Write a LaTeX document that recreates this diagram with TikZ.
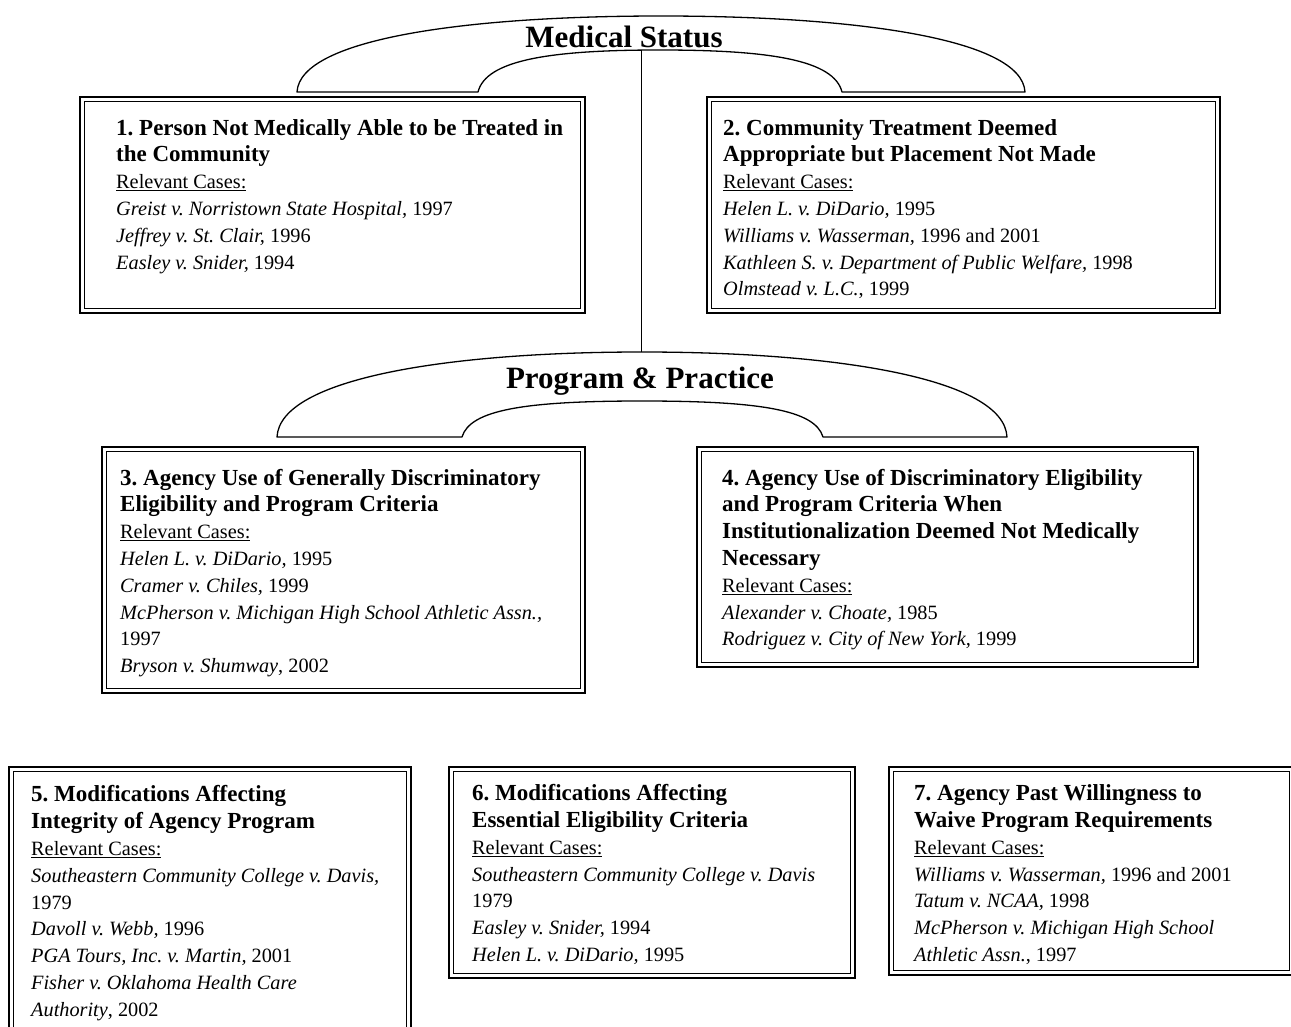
\documentclass[tikz,border=0pt]{standalone}
\usepackage{fontspec}
\setmainfont{Liberation Serif}
\frenchspacing
\newcommand\hd[1]{{\fontsize{23}{26.8}\selectfont\bfseries #1}}
\newcommand\rc{\underline{Relevant Cases:}}
\newcommand\cs[1]{\textit{#1}}
\begin{document}
\begin{tikzpicture}[x=1pt,y=-1pt,
  frame/.style={draw, line width=2.6pt, rectangle, inner sep=0pt, outer sep=0pt, anchor=north west},
  body/.style={anchor=north west, align=left, inner sep=0pt, font=\fontsize{20.3}{26.8}\selectfont},
  arch/.style={draw, line width=1.3pt, line join=round},
  head/.style={font=\fontsize{31}{36}\selectfont\bfseries, inner sep=0pt}]
\clip (0,0) rectangle (1291,1027);
\fill[white] (0,0) rectangle (1291,1027);

% arches
\draw[arch] (297,92) .. controls (300,38) and (470,16) .. (661,16) .. controls (852,16) and (1022,38) .. (1025,92) -- (842,92) .. controls (834,60) and (770,50) .. (660,50) .. controls (550,50) and (486,60) .. (478,92) -- cycle;
\draw[arch] (277,437) .. controls (280,378) and (450,352) .. (642,352) .. controls (834,352) and (1004,378) .. (1007,437) -- (823,437) .. controls (815,410) and (760,401) .. (642,401) .. controls (524,401) and (470,410) .. (462,437) -- cycle;

\node[head] (ms) at (624,37) {Medical Status};
\node[head] (pp) at (640,381) {Program \& Practice};

\coordinate (c1) at (641,50);
\coordinate (c2) at (641,352);
\draw[line width=1pt] (c1) -- (c2);

% boxes
\node[frame, minimum width=505pt, minimum height=216pt] (b1) at (80,97) {};
\node[frame, minimum width=513pt, minimum height=216pt] (b2) at (707,97) {};
\node[frame, minimum width=483pt, minimum height=246pt] (b3) at (102,447) {};
\node[frame, minimum width=501pt, minimum height=220pt] (b4) at (697,447) {};
\node[frame, minimum width=402pt, minimum height=290pt] (b5) at (9,767) {};
\node[frame, minimum width=406pt, minimum height=211pt] (b6) at (449,767) {};
\node[frame, minimum width=405pt, minimum height=208pt] (b7) at (889,767) {};
\foreach \n in {b1,b2,b3,b4,b5,b6,b7}
  \draw[line width=0.9pt] ([shift={(4.2,4.2)}]\n.north west) rectangle ([shift={(-4.2,-4.2)}]\n.south east);

\node[body] (t1) at (116,116.2) {\strut\hd{1. Person Not Medically Able to be Treated in}\\
\hd{the Community}\\
\rc\\
\cs{Greist v. Norristown State Hospital,} 1997\\
\cs{Jeffrey v. St. Clair,} 1996\\
\cs{Easley v. Snider,} 1994};

\node[body] (t2) at (723,116.2) {\strut\hd{2. Community Treatment Deemed}\\
\hd{Appropriate but Placement Not Made}\\
\rc\\
\cs{Helen L. v. DiDario,} 1995\\
\cs{Williams v. Wasserman,} 1996 and 2001\\
\cs{Kathleen S. v. Department of Public Welfare,} 1998\\
\cs{Olmstead v. L.C.}, 1999};

\node[body] (t3) at (120,466.2) {\strut\hd{3. Agency Use of Generally Discriminatory}\\
\hd{Eligibility and Program Criteria}\\
\rc\\
\cs{Helen L. v. DiDario,} 1995\\
\cs{Cramer v. Chiles,} 1999\\
\cs{McPherson v. Michigan High School Athletic Assn.,}\\
1997\\
\cs{Bryson v. Shumway}, 2002};

\node[body] (t4) at (722,466.2) {\strut\hd{4. Agency Use of Discriminatory Eligibility}\\
\hd{and Program Criteria When}\\
\hd{Institutionalization Deemed Not Medically}\\
\hd{Necessary}\\
\rc\\
\cs{Alexander v. Choate,} 1985\\
\cs{Rodriguez v. City of New York,} 1999};

\node[body] (t5) at (31,783) {\strut\hd{5. Modifications Affecting}\\
\hd{Integrity of Agency Program}\\
\rc\\
\cs{Southeastern Community College v. Davis,}\\
1979\\
\cs{Davoll v. Webb,} 1996\\
\cs{PGA Tours, Inc. v. Martin,} 2001\\
\cs{Fisher v. Oklahoma Health Care}\\
\cs{Authority}, 2002};

\node[body] (t6) at (472,781.8) {\strut\hd{6. Modifications Affecting}\\
\hd{Essential Eligibility Criteria}\\
\rc\\
\cs{Southeastern Community College v. Davis}\\
1979\\
\cs{Easley v. Snider,} 1994\\
\cs{Helen L. v. DiDario,} 1995};

\node[body] (t7) at (914,781.8) {\strut\hd{7. Agency Past Willingness to}\\
\hd{Waive Program Requirements}\\
\rc\\
\cs{Williams v. Wasserman,} 1996 and 2001\\
\cs{Tatum v. NCAA,} 1998\\
\cs{McPherson v. Michigan High School}\\
\cs{Athletic Assn.}, 1997};
\end{tikzpicture}
\end{document}
